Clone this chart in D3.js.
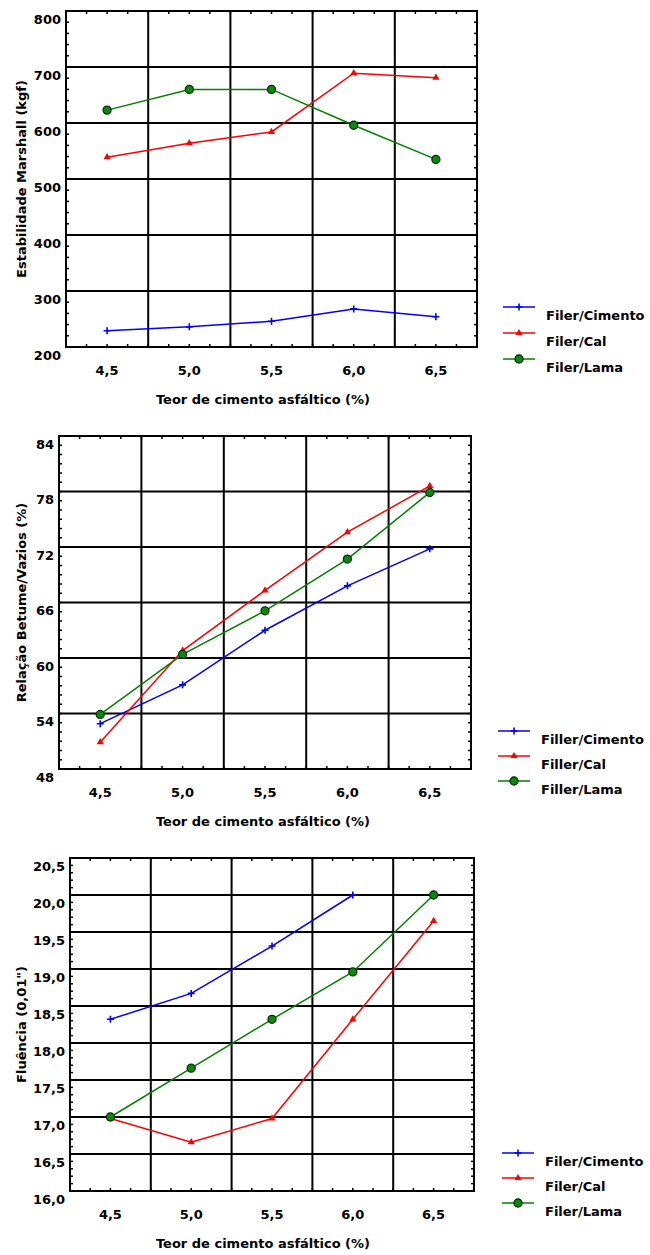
<!DOCTYPE html>
<html>
<head>
<meta charset="utf-8">
<script src="https://cdn.jsdelivr.net/npm/d3@7"></script>
<style>
  body { margin: 0; background: #fff; }
  text { font-family: "DejaVu Sans", sans-serif; font-weight: bold; fill: #000; }
</style>
</head>
<body>
<script>
// teor de cimento asfaltico (%)
var teor = [4.5, 5.0, 5.5, 6.0, 6.5];
var xTicks = [4.5, 5.0, 5.5, 6.0, 6.5];
var xGrid = [4.75, 5.25, 5.75, 6.25];

// estabilidade Marshall (kgf)
var estabCimento = [229, 236, 246, 268, 254];
var estabCal = [539, 564, 584, 689, 681];
var estabLama = [623, 660, 660, 596, 535];
var estabTicks = [200, 300, 400, 500, 600, 700, 800];

// relacao betume/vazios (%)
var rbvCimento = [52.9, 57.1, 63.0, 67.8, 71.8];
var rbvCal = [50.9, 60.8, 67.3, 73.6, 78.6];
var rbvLama = [53.9, 60.4, 65.1, 70.7, 77.9];
var rbvTicks = [48, 54, 60, 66, 72, 78, 84];

// fluencia (0,01")
var fluCimento = [18.32, 18.67, 19.31, 20.0, null];
var fluCal = [16.98, 16.66, 16.98, 18.32, 19.65];
var fluLama = [17.0, 17.66, 18.32, 18.96, 20.0];
var fluTicks = [16.0, 16.5, 17.0, 17.5, 18.0, 18.5, 19.0, 19.5, 20.0, 20.5];

var namesFiler = ["Filer/Cimento", "Filer/Cal", "Filer/Lama"];
var namesFiller = ["Filler/Cimento", "Filler/Cal", "Filler/Lama"];
var colors = ["#0000ff", "#ff0000", "#008000"];
var markers = ["plus", "triangle", "circle"];

var panels = [
  { top: 11, bottom: 347, left: 66, right: 477, ticks: estabTicks, minor: 20,
    fmt: d3.format("d"), ytitle: "Estabilidade Marshall (kgf)",
    series: [estabCimento, estabCal, estabLama], names: namesFiler,
    legendX: 503, legendY: 307, legendStep: 26 },
  { top: 436, bottom: 769, left: 59, right: 471, ticks: rbvTicks, minor: 1,
    fmt: d3.format("d"), ytitle: "Relação Betume/Vazios (%)",
    series: [rbvCimento, rbvCal, rbvLama], names: namesFiller,
    legendX: 498, legendY: 731, legendStep: 25 },
  { top: 858, bottom: 1191, left: 70, right: 474, ticks: fluTicks, minor: 0.1,
    fmt: function(v) { return d3.format(".1f")(v).replace(".", ","); },
    ytitle: "Fluência (0,01\")",
    series: [fluCimento, fluCal, fluLama], names: namesFiler,
    legendX: 502, legendY: 1153, legendStep: 25 }
];

var svg = d3.select("body").append("svg").attr("width", 650).attr("height", 1255);

function drawMarker(g, type, x, y, color) {
  if (type === "plus") {
    g.append("path").attr("d", "M" + (x - 3.5) + "," + y + "H" + (x + 3.5) + "M" + x + "," + (y - 3.5) + "V" + (y + 3.5))
      .attr("stroke", color).attr("stroke-width", 1.6);
  } else if (type === "triangle") {
    g.append("path").attr("d", d3.symbol().type(d3.symbolTriangle).size(22)())
      .attr("transform", "translate(" + x + "," + y + ")").attr("fill", color);
  } else {
    g.append("circle").attr("cx", x).attr("cy", y).attr("r", 4)
      .attr("fill", "#0a8a0a").attr("stroke", "#0c2a0c").attr("stroke-width", 1.3);
  }
}

panels.forEach(function(p) {
  var x = d3.scaleLinear().domain([4.25, 6.75]).range([p.left, p.right]);
  var yMin = p.ticks[0], yMax = p.ticks[p.ticks.length - 1];
  var y = d3.scaleLinear().domain([yMin, yMax]).range([p.bottom, p.top]);
  var g = svg.append("g");

  // minor ticks, inward on all sides
  var tl = 3;
  var xm = d3.range(4.375, 6.75, 0.125);
  xm.forEach(function(v) {
    g.append("line").attr("x1", x(v)).attr("x2", x(v)).attr("y1", p.bottom).attr("y2", p.bottom - tl)
      .attr("stroke", "#000").attr("stroke-width", 1.5);
    g.append("line").attr("x1", x(v)).attr("x2", x(v)).attr("y1", p.top).attr("y2", p.top + tl)
      .attr("stroke", "#000").attr("stroke-width", 1.5);
  });
  var n = Math.round((yMax - yMin) / p.minor);
  for (var i = 1; i < n; i++) {
    var v = yMin + i * p.minor;
    g.append("line").attr("x1", p.left).attr("x2", p.left + tl).attr("y1", y(v)).attr("y2", y(v))
      .attr("stroke", "#000").attr("stroke-width", 1.5);
    g.append("line").attr("x1", p.right).attr("x2", p.right - tl).attr("y1", y(v)).attr("y2", y(v))
      .attr("stroke", "#000").attr("stroke-width", 1.5);
  }

  // grid
  p.ticks.slice(1, -1).forEach(function(v) {
    g.append("line").attr("x1", p.left).attr("x2", p.right).attr("y1", y(v)).attr("y2", y(v))
      .attr("stroke", "#000").attr("stroke-width", 2);
  });
  xGrid.forEach(function(v) {
    g.append("line").attr("x1", x(v)).attr("x2", x(v)).attr("y1", p.top).attr("y2", p.bottom)
      .attr("stroke", "#000").attr("stroke-width", 2);
  });

  g.append("rect").attr("x", p.left).attr("y", p.top)
    .attr("width", p.right - p.left).attr("height", p.bottom - p.top)
    .attr("fill", "none").attr("stroke", "#000").attr("stroke-width", 2);

  // tick labels
  p.ticks.forEach(function(v) {
    g.append("text").attr("x", p.left - 5).attr("y", y(v) + 8).attr("dy", "0.35em")
      .attr("text-anchor", "end").style("font-size", "13px").text(p.fmt(v));
  });
  xTicks.forEach(function(v) {
    g.append("text").attr("x", x(v)).attr("y", p.bottom + 23).attr("dy", "0.35em")
      .attr("text-anchor", "middle").style("font-size", "13px")
      .text(d3.format(".1f")(v).replace(".", ","));
  });

  // titles
  g.append("text").attr("x", 263).attr("y", p.bottom + 52).attr("dy", "0.35em")
    .attr("text-anchor", "middle").style("font-size", "13px").text("Teor de cimento asfáltico (%)");
  g.append("text").attr("transform", "translate(21," + ((p.top + p.bottom) / 2) + ") rotate(-90)")
    .attr("dy", "0.35em").attr("text-anchor", "middle").style("font-size", "13px").text(p.ytitle);

  // series
  p.series.forEach(function(vals, si) {
    var pts = teor.map(function(t, k) { return [t, vals[k]]; }).filter(function(d) { return d[1] != null; });
    var line = d3.line().x(function(d) { return x(d[0]); }).y(function(d) { return y(d[1]); });
    g.append("path").attr("d", line(pts)).attr("fill", "none")
      .attr("stroke", colors[si]).attr("stroke-width", 1.5);
    pts.forEach(function(d) { drawMarker(g, markers[si], x(d[0]), y(d[1]), colors[si]); });

    // legend
    var ly = p.legendY + si * p.legendStep;
    g.append("line").attr("x1", p.legendX).attr("x2", p.legendX + 32).attr("y1", ly).attr("y2", ly)
      .attr("stroke", colors[si]).attr("stroke-width", 1.5);
    drawMarker(g, markers[si], p.legendX + 16, ly, colors[si]);
    g.append("text").attr("x", p.legendX + 43).attr("y", ly + 8).attr("dy", "0.35em")
      .style("font-size", "13px").text(p.names[si]);
  });
});
</script>
</body>
</html>
